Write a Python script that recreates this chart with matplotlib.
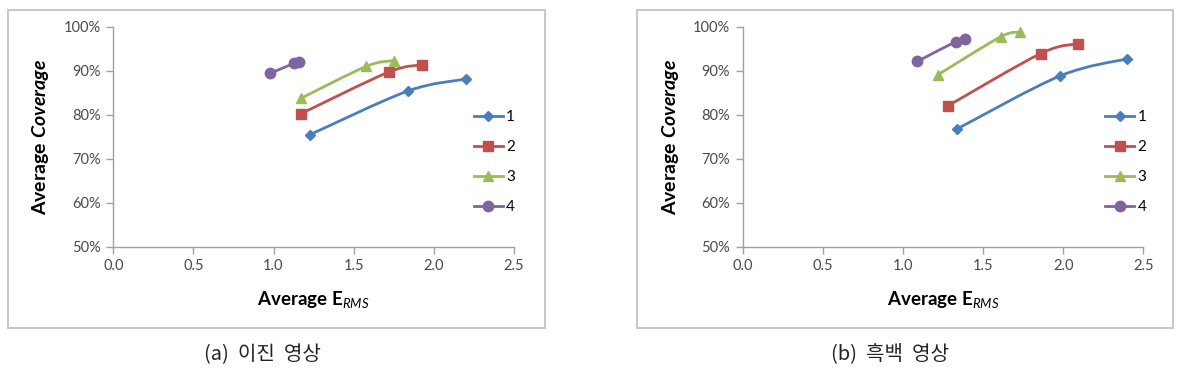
import numpy as np
import matplotlib.pyplot as plt
from matplotlib.path import Path
from matplotlib.patches import PathPatch, Rectangle
from matplotlib.lines import Line2D
from matplotlib.ticker import PercentFormatter, MultipleLocator

plt.rcParams['font.family'] = ['Lato', 'DejaVu Sans']
plt.rcParams['mathtext.fontset'] = 'custom'
plt.rcParams['mathtext.rm'] = 'Lato'
plt.rcParams['mathtext.bf'] = 'Lato:bold'
plt.rcParams['mathtext.it'] = 'Lato:italic'
plt.rcParams['mathtext.bfit'] = 'Lato:bold:italic'

series_names = ['1', '2', '3', '4']
colors = ['#4A7EBB', '#C0504D', '#9BBB59', '#8064A2']
markers = ['D', 's', '^', 'o']
msizes = [5.5, 7.5, 7.5, 7.5]

# (a) binary images
binary_x = [[1.23, 1.84, 2.20], [1.17, 1.72, 1.93], [1.17, 1.58, 1.75], [0.98, 1.13, 1.16]]
binary_y = [[0.755, 0.854, 0.881], [0.802, 0.897, 0.913], [0.837, 0.910, 0.923], [0.894, 0.917, 0.920]]

# (b) grayscale images
gray_x = [[1.34, 1.98, 2.40], [1.28, 1.86, 2.09], [1.22, 1.61, 1.73], [1.09, 1.33, 1.39]]
gray_y = [[0.768, 0.888, 0.927], [0.820, 0.939, 0.961], [0.891, 0.977, 0.987], [0.921, 0.966, 0.972]]

captions = ['(a)  이진  영상', '(b)  흑백  영상']


def smooth_path(x, y):
    # Excel-like smoothed line: cubic bezier through points
    pts = np.column_stack([x, y])
    n = len(pts)
    verts = [pts[0]]
    codes = [Path.MOVETO]
    for i in range(n - 1):
        p0 = pts[i - 1] if i > 0 else pts[i]
        p1 = pts[i]
        p2 = pts[i + 1]
        p3 = pts[i + 2] if i + 2 < n else pts[i + 1]
        verts += [p1 + (p2 - p0) / 6, p2 - (p3 - p1) / 6, p2]
        codes += [Path.CURVE4] * 3
    return Path(verts, codes)


W, H = 1179, 369
fig = plt.figure(figsize=(W / 100, H / 100), dpi=100)

panels = [
    dict(xs=binary_x, ys=binary_y, left=113.3, box=(8, 10, 545, 328), cap_x=262, leg_x=0.885),
    dict(xs=gray_x, ys=gray_y, left=742.7, box=(637, 10, 1173, 328), cap_x=890, leg_x=0.89),
]

for p, cap in zip(panels, captions):
    x0, y0, x1, y1 = p['box']
    fig.patches.append(Rectangle((x0 / W, 1 - y1 / H), (x1 - x0) / W, (y1 - y0) / H,
                                 transform=fig.transFigure, fill=False,
                                 edgecolor='#C8C8C8', lw=1.5))
    ax = fig.add_axes([p['left'] / W, 1 - 246.7 / H, 400.5 / W, 220 / H])
    for xs, ys, c, m, ms in zip(p['xs'], p['ys'], colors, markers, msizes):
        ax.add_patch(PathPatch(smooth_path(xs, ys), fill=False, edgecolor=c, lw=2.0,
                               capstyle='round', joinstyle='round'))
        ax.plot(xs, ys, linestyle='none', marker=m, color=c, markersize=ms)

    ax.set_xlim(0, 2.5)
    ax.set_ylim(0.5, 1.0)
    ax.xaxis.set_major_locator(MultipleLocator(0.5))
    ax.yaxis.set_major_locator(MultipleLocator(0.1))
    ax.yaxis.set_major_formatter(PercentFormatter(1.0, decimals=0))
    ax.xaxis.set_major_formatter(plt.FuncFormatter(lambda v, pos: f'{v:.1f}'))
    for s in ['top', 'right']:
        ax.spines[s].set_visible(False)
    for s in ['left', 'bottom']:
        ax.spines[s].set_color('#A0A0A0')
        ax.spines[s].set_linewidth(1.0)
    ax.tick_params(direction='out', length=5, width=1, color='#A0A0A0',
                   labelsize=10.5, labelcolor='#4A4A4A', pad=4)

    ax.set_ylabel(r'$\mathbf{Average}\ \mathbfit{Coverage}$', fontsize=14)
    ax.yaxis.set_label_coords(-0.155, 0.5)
    ax.set_xlabel(r'$\mathbf{Average\ E}_{\mathit{RMS}}$', fontsize=13.5)
    ax.xaxis.set_label_coords(0.5, -0.19)

    handles = [Line2D([], [], color=c, lw=2.0, marker=m, markersize=ms)
               for c, m, ms in zip(colors, markers, msizes)]
    ax.legend(handles, series_names, loc='center left', frameon=False,
              bbox_to_anchor=(p['leg_x'], 0.385), fontsize=11,
              handlelength=1.9, handletextpad=0.2, labelspacing=1.05,
              borderaxespad=0)

    fig.text(p['cap_x'] / W, 1 - 355 / H, cap, ha='center', va='center', fontsize=14.5,
             color='#222222', family=['Noto Sans CJK KR', 'DejaVu Sans'])

fig.savefig('out.png', dpi=100)
